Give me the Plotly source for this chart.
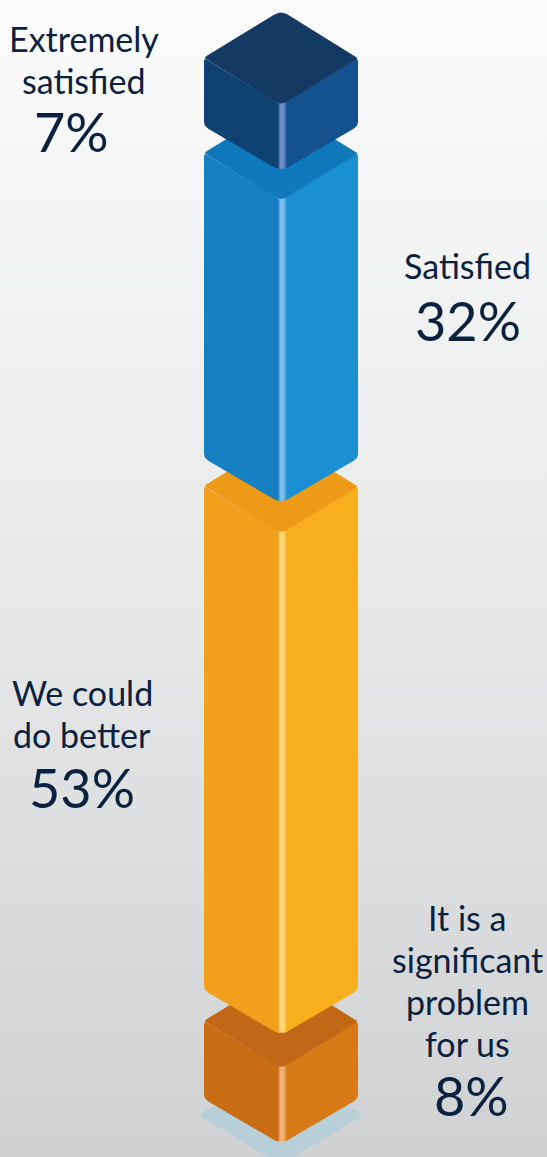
import numpy as np
import plotly.graph_objects as go

# Survey results, top of the stack first
CATEGORIES = [["Extremely", "satisfied"], ["Satisfied"], ["We could", "do better"],
              ["It is a", "significant", "problem", "for us"]]
VALUES = [7, 32, 53, 8]

# Isometric block styling and text placement
TOP_COLORS = ["#143a63", "#0e78bb", "#ec9a17", "#c06815"]
LEFT_COLORS = ["#0f4273", "#1780c2", "#f2a01c", "#c96d15"]
RIGHT_COLORS = ["#13528f", "#1a8fd1", "#f8af1e", "#d87917"]
GLOW_COLORS = ["#6f8dc4", "#7cbcec", "#ffd679", "#f2b27a"]
LABEL_X = [84, 467, 82, 467]
LABEL_FIRST_Y = [38, 265, 692, 917]
PERCENT_X = [71, 468, 82, 471]
PERCENT_Y = [131, 320, 787, 1095]
GAPS = [29, 30, 33]

INK = "#0a2240"
W, H = 547, 1157
PX_PER_POINT = 9.47
FIRST_FRONT = 105
CX, HALF_W, HALF_H, BASE_RISE = 281, 77, 47, 45
LINE_STEP = 42


def rounded(points, radii):
    """Close a polygon, replacing each vertex by a curve of the given radius (0 keeps it sharp)."""
    pts = [np.array(p, float) for p in points]
    out = []
    n = len(pts)
    for i, p in enumerate(pts):
        r = radii[i]
        if r == 0:
            out.append(p)
            continue
        a, b = pts[i - 1], pts[(i + 1) % n]
        p1 = p + (a - p) / np.linalg.norm(a - p) * r
        p2 = p + (b - p) / np.linalg.norm(b - p) * r
        for t in np.linspace(0, 1, 7):
            out.append((1 - t) ** 2 * p1 + 2 * t * (1 - t) * p + t ** 2 * p2)
    out.append(out[0])
    arr = np.array(out)
    return arr[:, 0], arr[:, 1]


def area(x, y, color=None, gradient=None, edge=0):
    kw = dict(fillgradient=gradient) if gradient else dict(fillcolor=color)
    line = dict(width=edge, color=color) if edge else dict(width=0)
    return go.Scatter(x=x, y=y, mode="lines", fill="toself", line=line,
                      hoverinfo="skip", showlegend=False, **kw)


fig = go.Figure()

# Page backdrop, light at the top and grey towards the floor
fig.add_trace(area([0, W, W, 0, 0], [0, 0, H, H, 0], gradient=dict(
    type="vertical", colorscale=[[0, "#d0d1d3"], [0.5, "#e8e9e9"], [1, "#fbfbfb"]])))

# Stack geometry follows from the values
fronts, bottoms = [], []
y = FIRST_FRONT
for i, v in enumerate(VALUES):
    fronts.append(y)
    bottoms.append(y + v * PX_PER_POINT)
    if i < len(GAPS):
        y = bottoms[-1] + GAPS[i]

# Ground shadow under the last block
sy = bottoms[-1] - 29
fig.add_trace(area(*rounded([(CX - 83, sy), (CX, sy - 50), (CX + 83, sy), (CX, sy + 50)], [7, 8, 7, 8]),
                   color="#b9cfd8"))

# Blocks are painted from the bottom up so each overlaps the top of the one below
for i in reversed(range(len(VALUES))):
    front, bottom = fronts[i], bottoms[i]
    side_top, side_bot = front - HALF_H, bottom - BASE_RISE
    fig.add_trace(area(*rounded([(CX - HALF_W, side_top), (CX, front), (CX, bottom), (CX - HALF_W, side_bot)],
                                [3, 0, 8, 5]), color=LEFT_COLORS[i]))
    fig.add_trace(area(*rounded([(CX + HALF_W, side_top), (CX, front), (CX, bottom), (CX + HALF_W, side_bot)],
                                [3, 0, 8, 5]), color=RIGHT_COLORS[i]))
    # Bevel on the front edge
    ex0, ex1 = CX - 3, CX + 6
    xs = np.linspace(ex0, ex1, 19)
    low = np.minimum(bottom - np.abs(xs - CX) * BASE_RISE / HALF_W, bottom - 2.5)
    ex = np.concatenate([[ex0, ex1], xs[::-1], [ex0]])
    ey = np.concatenate([[front - 4, front - 4], low[::-1], [front - 4]])
    fig.add_trace(area(ex, ey, gradient=dict(type="horizontal", colorscale=[
        [0, LEFT_COLORS[i]], [0.25, GLOW_COLORS[i]], [0.6, GLOW_COLORS[i]], [1, RIGHT_COLORS[i]]])))
    # Top face, with a hairline in its own colour to close the seam against the sides
    fig.add_trace(area(*rounded([(CX, front - 2 * HALF_H), (CX + HALF_W, side_top), (CX, front), (CX - HALF_W, side_top)],
                                [8, 3, 8, 3]), color=TOP_COLORS[i], edge=1))

# Category names and percentages
for i, (lines, v) in enumerate(zip(CATEGORIES, VALUES)):
    for k, line in enumerate(lines):
        fig.add_annotation(x=LABEL_X[i], y=LABEL_FIRST_Y[i] + k * LINE_STEP, text=line, showarrow=False,
                           xanchor="center", yanchor="middle", font=dict(family="Lato", size=34, color=INK))
    fig.add_annotation(x=PERCENT_X[i], y=PERCENT_Y[i], text=f"{v}%", showarrow=False,
                       xanchor="center", yanchor="middle", font=dict(family="Lato", size=54, color=INK))

fig.update_layout(
    width=W, height=H, margin=dict(l=0, r=0, t=0, b=0),
    paper_bgcolor="#ffffff", plot_bgcolor="rgba(0,0,0,0)", showlegend=False,
    xaxis=dict(range=[0, W], visible=False, fixedrange=True),
    yaxis=dict(range=[H, 0], visible=False, fixedrange=True),
)
fig.write_html("out.html", config=dict(displayModeBar=False))
